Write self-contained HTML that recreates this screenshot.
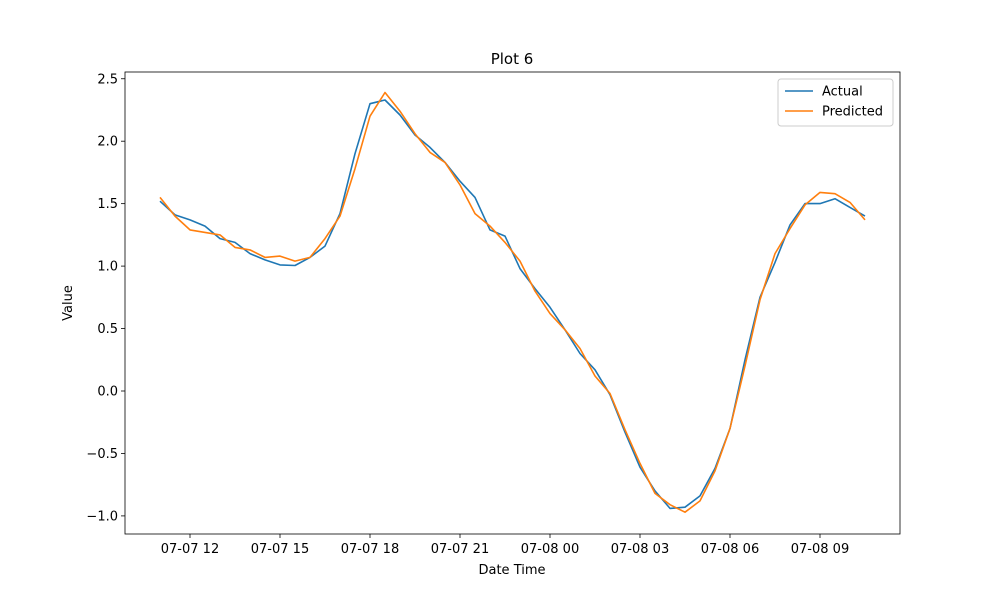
<!DOCTYPE html>
<html><head><meta charset="utf-8"><style>
body{margin:0;background:#fff;}
svg{display:block;font-family:"DejaVu Sans","Liberation Sans",sans-serif;}
</style></head><body>
<svg id="chart" width="1000" height="600"></svg>
<script>
const xTickLabels = ["07-07 12","07-07 15","07-07 18","07-07 21","07-08 00","07-08 03","07-08 06","07-08 09"];
const xTickHours = [1,4,7,10,13,16,19,22];
const yTicks = [-1.0,-0.5,0.0,0.5,1.0,1.5,2.0,2.5];
const actual = [1.52,1.41,1.37,1.32,1.22,1.19,1.10,1.05,1.01,1.005,1.07,1.16,1.42,1.90,2.30,2.33,2.21,2.05,1.95,1.83,1.68,1.55,1.29,1.24,0.98,0.82,0.67,0.49,0.30,0.17,-0.03,-0.33,-0.61,-0.80,-0.94,-0.93,-0.84,-0.62,-0.30,0.25,0.75,1.03,1.33,1.50,1.50,1.54,1.47,1.40];
const predicted = [1.55,1.40,1.29,1.27,1.25,1.15,1.13,1.07,1.08,1.04,1.07,1.22,1.40,1.78,2.20,2.39,2.24,2.06,1.91,1.83,1.65,1.42,1.32,1.19,1.04,0.80,0.62,0.49,0.34,0.12,-0.02,-0.31,-0.58,-0.82,-0.91,-0.97,-0.88,-0.64,-0.30,0.20,0.73,1.10,1.30,1.49,1.59,1.58,1.51,1.37];

const NS="http://www.w3.org/2000/svg";
const svg=document.getElementById('chart');
const L=125,R=900,T=72,B=534;
// hours since 11:00 on 07-07; step 0.5h
const xs=h=>160+h*30;
const ys=v=>391-v*124.9;
function mk(tag,attrs,parent){const e=document.createElementNS(NS,tag);for(const k in attrs)e.setAttribute(k,attrs[k]);(parent||svg).appendChild(e);return e;}

const frame=mk('rect',{x:L,y:T,width:R-L,height:B-T,fill:'none',stroke:'#000','stroke-width':0.8});



xTickHours.forEach((h,i)=>{
  const x=xs(h);
  const t=mk('line',{x1:x,x2:x,y1:B,y2:B+4,stroke:'#000','stroke-width':0.8});
  
  
  const tx=mk('text',{x:x,y:B+19,'font-size':13,'text-anchor':'middle'});
  tx.textContent=xTickLabels[i];
  
  
});
yTicks.forEach(v=>{
  const y=ys(v);
  const t=mk('line',{x1:L-4,x2:L,y1:y,y2:y,stroke:'#000','stroke-width':0.8});
  
  
  const tx=mk('text',{x:L-7,y:y+4.5,'font-size':13,'text-anchor':'end'});
  tx.textContent=(v<0?'\u2212':'')+Math.abs(v).toFixed(1);
  
  
});

function series(arr,color,name){
  const pts=arr.map((v,i)=>xs(i*0.5).toFixed(1)+','+ys(v).toFixed(1)).join(' ');
  const p=mk('polyline',{points:pts,fill:'none',stroke:color,'stroke-width':1.6,'stroke-linejoin':'round'});
  
  
}
series(actual,'#1f77b4','actual-line');
series(predicted,'#ff7f0e','predicted-line');

const title=mk('text',{x:512,y:64,'font-size':15,'text-anchor':'middle'});
title.textContent='Plot 6';


const xl=mk('text',{x:512,y:574,'font-size':13,'text-anchor':'middle'});
xl.textContent='Date Time';


const yl=mk('text',{x:0,y:0,'font-size':13,'text-anchor':'middle',transform:'translate(72,303) rotate(-90)'});
yl.textContent='Value';



const lg=mk('g',{});


mk('rect',{x:778,y:79,width:115,height:47,rx:3,fill:'#fff',stroke:'#ccc','stroke-width':1},lg);
[['Actual','#1f77b4',91],['Predicted','#ff7f0e',111]].forEach(([n,c,y])=>{
  const e=mk('g',{},lg);
  
  
  mk('line',{x1:785,x2:813,y1:y,y2:y,stroke:c,'stroke-width':1.6},e);
  const t=mk('text',{x:822,y:y+4.5,'font-size':13},e);
  t.textContent=n;
});
</script>
</body></html>
